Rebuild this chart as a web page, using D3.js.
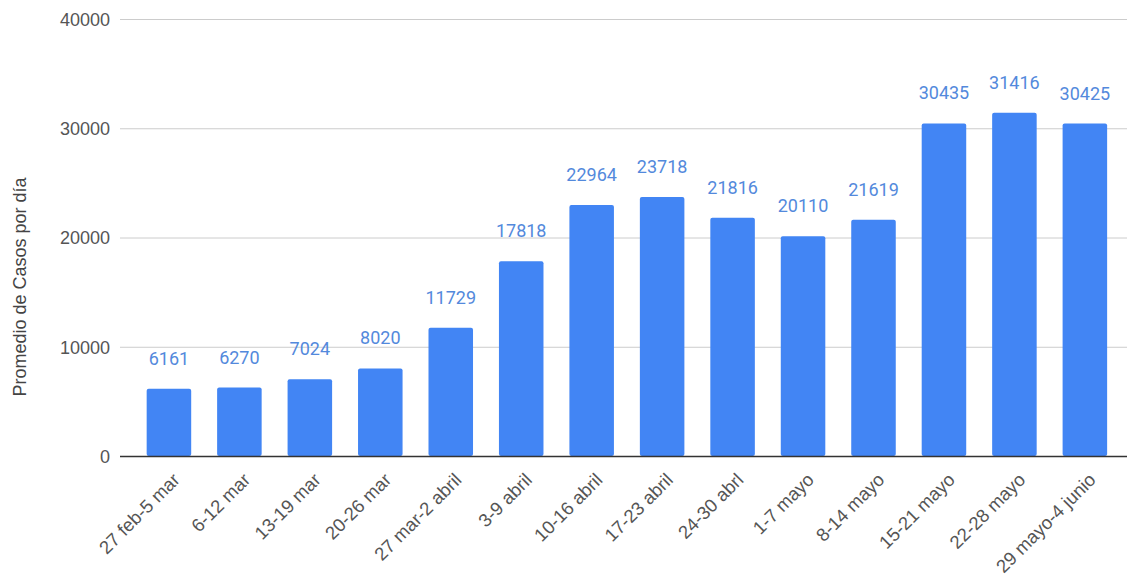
<!DOCTYPE html>
<html>
<head>
<meta charset="utf-8">
<script src="https://cdn.jsdelivr.net/npm/d3@7"></script>
<style>
  html, body { margin: 0; padding: 0; background: #fff; }
  svg { display: block; }
</style>
</head>
<body>
<svg id="chart" width="1127" height="581"></svg>
<script>
const categories = ["27 feb-5 mar", "6-12 mar", "13-19 mar", "20-26 mar", "27 mar-2 abril", "3-9 abril", "10-16 abril", "17-23 abril", "24-30 abrl", "1-7 mayo", "8-14 mayo", "15-21 mayo", "22-28 mayo", "29 mayo-4 junio"];
const values = [6161, 6270, 7024, 8020, 11729, 17818, 22964, 23718, 21816, 20110, 21619, 30435, 31416, 30425];
const yTicks = [0, 10000, 20000, 30000, 40000];
const yTitle = "Promedio de Casos por día";

(function () {
const svg = d3.select("#chart");
const mLeft = 120, mRight = 1127, mTop = 19, mBottom = 456;
const axisFont = "Liberation Sans, Arial, sans-serif";

const x = d3.scaleBand().domain(categories).range([133.7, 1120.1]).paddingInner(0.368).paddingOuter(0.184);
const y = d3.scaleLinear().domain([0, 40000]).range([mBottom, mTop]);

// gridlines
svg.append("g").selectAll("line").data(yTicks.filter(d => d !== 0)).join("line")
  .attr("x1", mLeft).attr("x2", mRight)
  .attr("y1", d => y(d) + 0.5).attr("y2", d => y(d) + 0.5)
  .attr("stroke", "#cccccc").attr("stroke-width", 1);

// y tick labels
const yAxis = d3.axisLeft(y).tickValues(yTicks).tickSize(0).tickPadding(0).tickFormat(d3.format("d"));
const gy = svg.append("g").attr("transform", `translate(110,0)`).call(yAxis);
gy.select(".domain").remove();
gy.selectAll("text").attr("font-family", axisFont).attr("font-size", 18).attr("fill", "#555").attr("dy", "0.35em");

// bars
svg.append("g").selectAll("rect").data(values).join("rect")
  .attr("x", (d, i) => x(categories[i]))
  .attr("y", d => y(d))
  .attr("width", x.bandwidth())
  .attr("height", d => mBottom - y(d))
  .attr("rx", 2).attr("ry", 2)
  .attr("fill", "#4285f4");

// baseline
svg.append("line").attr("x1", mLeft).attr("x2", mRight)
  .attr("y1", mBottom + 0.5).attr("y2", mBottom + 0.5)
  .attr("stroke", "#333").attr("stroke-width", 1.3);

// value labels
svg.append("g").selectAll("text").data(values).join("text")
  .attr("x", (d, i) => x(categories[i]) + x.bandwidth() / 2)
  .attr("y", d => y(d) - 24)
  .attr("text-anchor", "middle")
  .attr("font-family", "Roboto, sans-serif").attr("font-size", 18)
  .attr("fill", "#5389dc")
  .text(d => d);

// x labels
const xAxis = d3.axisBottom(x).tickSize(0).tickPadding(0);
const gx = svg.append("g").attr("transform", `translate(0,${mBottom})`).call(xAxis);
gx.select(".domain").remove();
gx.selectAll("text")
  .attr("font-family", axisFont).attr("font-size", 18.5).attr("fill", "#555")
  .attr("text-anchor", "end")
  .attr("dy", "0")
  .attr("y", 0)
  .attr("transform", "translate(12,25) rotate(-45)");

// y title
svg.append("text")
  .attr("transform", `translate(26,287) rotate(-90)`)
  .attr("text-anchor", "middle")
  .attr("font-family", axisFont).attr("font-size", 18).attr("fill", "#444")
  .text(yTitle);
})();
</script>
</body>
</html>
